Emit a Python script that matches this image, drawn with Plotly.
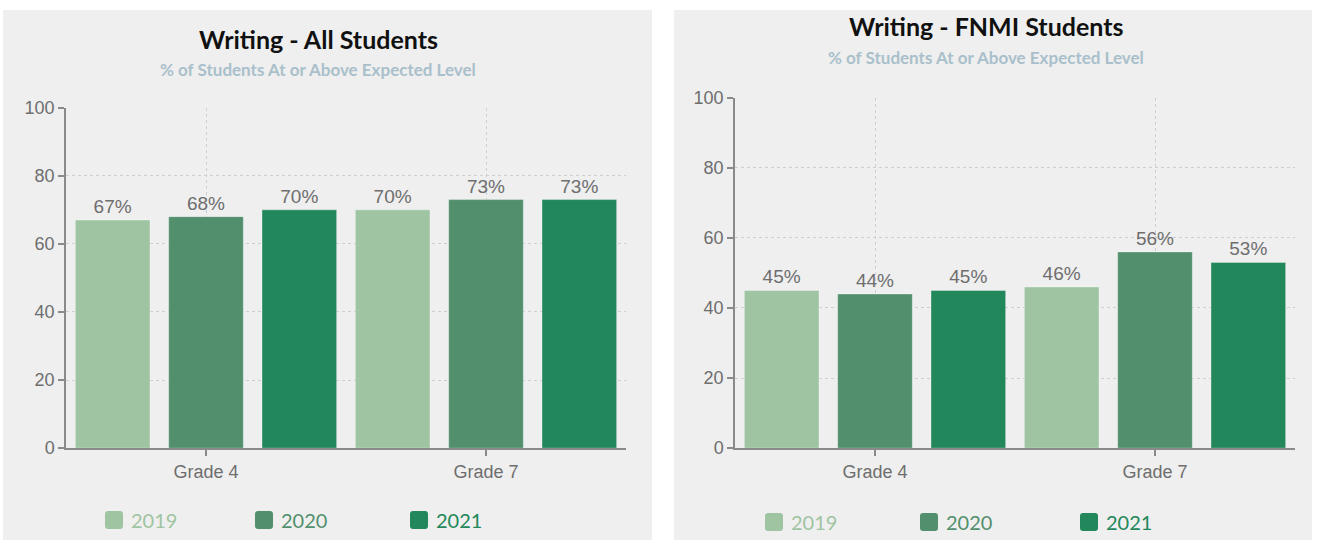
import plotly.graph_objects as go

# Data
grades = ["Grade 4", "Grade 7"]
years = ["2019", "2020", "2021"]
colors = ["#9fc4a1", "#528f6d", "#22885b"]

all_students = {
    "2019": [67, 70],
    "2020": [68, 73],
    "2021": [70, 73],
}
fnmi_students = {
    "2019": [45, 46],
    "2020": [44, 56],
    "2021": [45, 53],
}

W, H = 1317, 550
# Vertical layout grid: positions below are given on a 0..550 grid that is
# mapped onto the figure with a small scale and shift.
Y_SCALE, Y_SHIFT = 0.965, 9.2
PANEL_BG = "#efefef"
GRID = "#cfcfcf"
AXIS = "#8a8a8a"
TICK_FONT = dict(family="Liberation Sans, Arial, sans-serif", size=18, color="#6e6e6e")


def px(x):
    return x / W


def py(y):
    yf = (y - Y_SHIFT) / Y_SCALE
    return 1 - yf / H


fig = go.Figure()

panels = [
    dict(data=all_students, xa="x", ya="y", title="Writing - All Students",
         x0=66, x1=626, ytop=107, bg=(3, 5, 652, 548), title_cx=318, title_y=38, sub_y=69,
         legend_x=[105, 255, 410], legend_y=520),
    dict(data=fnmi_students, xa="x2", ya="y2", title="Writing - FNMI Students",
         x0=735, x1=1295, ytop=97, bg=(674, 4, 1312, 548), title_cx=986, title_y=25, sub_y=57,
         legend_x=[765, 920, 1080], legend_y=522),
]

shapes = []
annotations = []

for i, p in enumerate(panels):
    # Bars, one trace per year
    for yr, col in zip(years, colors):
        vals = p["data"][yr]
        fig.add_trace(go.Bar(
            x=grades, y=vals, name=yr, xaxis=p["xa"], yaxis=p["ya"],
            marker=dict(color=col, line=dict(color="rgba(255,255,255,0.35)", width=1)),
            text=[f"{v}%" for v in vals], textposition="outside",
            textfont=dict(family="Liberation Sans, Arial, sans-serif", size=19, color="#6e6e6e"),
            cliponaxis=False, showlegend=False, hoverinfo="skip",
        ))

    # Panel background
    bx0, by0, bx1, by1 = p["bg"]
    shapes.append(dict(type="rect", xref="paper", yref="paper", layer="below",
                       x0=px(bx0), x1=px(bx1), y0=max(py(by1), 0), y1=min(py(by0), 1),
                       fillcolor=PANEL_BG, line=dict(width=0)))

    # Titles
    annotations.append(dict(text=f"<b>{p['title']}</b>", xref="paper", yref="paper",
                            x=px(p["title_cx"]), y=py(p["title_y"]), showarrow=False,
                            xanchor="center", yanchor="middle",
                            font=dict(family="Lato, sans-serif", size=25, color="#111111")))
    annotations.append(dict(text="<b>% of Students At or Above Expected Level</b>", xref="paper",
                            yref="paper", x=px(p["title_cx"]), y=py(p["sub_y"]), showarrow=False,
                            xanchor="center", yanchor="middle",
                            font=dict(family="Lato, sans-serif", size=17, color="#a9c0cb")))

    # Legend: rounded swatch + coloured label
    sw = 18
    for yr, col, lx in zip(years, colors, p["legend_x"]):
        ly = p["legend_y"]
        r = 3
        x0, x1 = lx, lx + sw
        y0, y1 = ly - sw / 2, ly + sw / 2
        path = (f"M {px(x0 + r)} {py(y0)} L {px(x1 - r)} {py(y0)} "
                f"Q {px(x1)} {py(y0)} {px(x1)} {py(y0 + r)} L {px(x1)} {py(y1 - r)} "
                f"Q {px(x1)} {py(y1)} {px(x1 - r)} {py(y1)} L {px(x0 + r)} {py(y1)} "
                f"Q {px(x0)} {py(y1)} {px(x0)} {py(y1 - r)} L {px(x0)} {py(y0 + r)} "
                f"Q {px(x0)} {py(y0)} {px(x0 + r)} {py(y0)} Z")
        shapes.append(dict(type="path", xref="paper", yref="paper", path=path,
                           fillcolor=col, line=dict(width=0)))
        annotations.append(dict(text=yr, xref="paper", yref="paper", x=px(lx + sw + 6),
                                y=py(ly), showarrow=False, xanchor="left", yanchor="middle",
                                font=dict(family="Lato, sans-serif", size=20, color=col)))

axis_common_x = dict(
    showgrid=True, gridcolor=GRID, griddash="dot", gridwidth=1,
    showline=True, linecolor=AXIS, linewidth=1.5,
    ticks="outside", ticklen=6, tickcolor=AXIS, tickwidth=1.5,
    tickfont=TICK_FONT, zeroline=False, fixedrange=True,
)
axis_common_y = dict(
    range=[0, 100], dtick=20, showgrid=True, gridcolor=GRID, griddash="dot", gridwidth=1,
    showline=True, linecolor=AXIS, linewidth=1.5,
    ticks="outside", ticklen=6, tickcolor=AXIS, tickwidth=1.5,
    tickfont=TICK_FONT, zeroline=False, fixedrange=True,
)

fig.update_layout(
    width=W, height=H, margin=dict(l=0, r=0, t=0, b=0),
    paper_bgcolor="white", plot_bgcolor=PANEL_BG,
    barmode="group", bargap=0.0, bargroupgap=0.2,
    showlegend=False,
    xaxis=dict(domain=[px(panels[0]["x0"]), px(panels[0]["x1"])], anchor="y", **axis_common_x),
    yaxis=dict(domain=[py(448), py(panels[0]["ytop"])], anchor="x", **axis_common_y),
    xaxis2=dict(domain=[px(panels[1]["x0"]), px(panels[1]["x1"])], anchor="y2", **axis_common_x),
    yaxis2=dict(domain=[py(448), py(panels[1]["ytop"])], anchor="x2", **axis_common_y),
    shapes=shapes, annotations=annotations,
)

fig.write_html("out.html")
